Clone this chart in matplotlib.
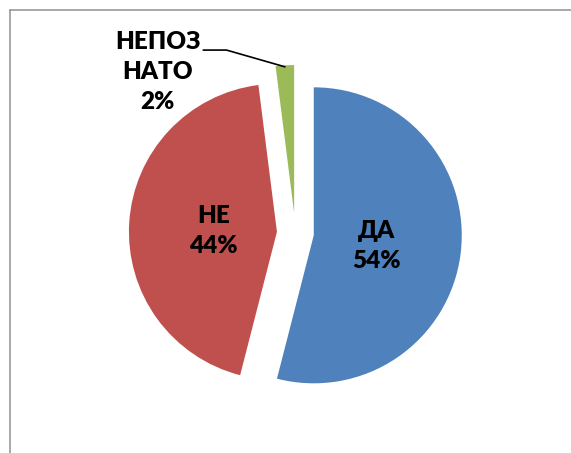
import numpy as np
import matplotlib.pyplot as plt
from matplotlib.lines import Line2D

# Survey answers
labels = ["ДА", "НЕ", "НЕПОЗ\nНАТО"]
shares = [54, 44, 2]
colors = ["#4F81BD", "#C0504D", "#9BBB59"]
explode = [0.125, 0.125, 0.135]

W, H = 571, 453
CX, CY = 295.4, 233      # pie centre in pixels
R = 148                  # pie radius in pixels

plt.rcParams["font.family"] = ["Lato", "DejaVu Sans"]

fig = plt.figure(figsize=(W / 100, H / 100), dpi=100)
ax = fig.add_axes([0, 0, 1, 1])

wedges, _ = ax.pie(
    shares,
    colors=colors,
    explode=explode,
    startangle=90,
    counterclock=False,
    wedgeprops={"linewidth": 0},
)
ax.set_aspect("auto")
ax.set_xlim(-CX / R, (W - CX) / R)
ax.set_ylim(-(H - CY) / R, CY / R)
ax.axis("off")

font = dict(fontsize=17.5, fontweight="heavy", linespacing=1.42)

# Labels inside the two big slices
for w, lab, pct in zip(wedges[:2], labels[:2], shares[:2]):
    mid = np.deg2rad((w.theta1 + w.theta2) / 2)
    x = w.center[0] + 0.43 * np.cos(mid)
    y = w.center[1] + 0.43 * np.sin(mid) - 0.02
    ax.text(x, y, f"{lab}\n{pct}%", ha="center", va="center", **font)

# Small slice gets an outside label with a leader line
g = wedges[2]
mid = np.deg2rad((g.theta1 + g.theta2) / 2)
tip = (g.center[0] + np.cos(mid) * 0.99, g.center[1] + np.sin(mid) * 0.99)
ax.annotate(
    f"{labels[2]}\n{shares[2]}%",
    xy=tip,
    xytext=(-0.93, 1.088),
    ha="center", va="center",
    arrowprops=dict(arrowstyle="-", color="black", lw=1.2,
                    relpos=(1.0, 0.77), patchA=None, shrinkA=2, shrinkB=0,
                    connectionstyle="angle,angleA=0,angleB=-16"),
    **font,
)

# Chart frame (top and left edges visible)
fig.add_artist(Line2D([10 / W, 1], [1 - 10 / H, 1 - 10 / H], color="#9a9a9a", lw=1.2))
fig.add_artist(Line2D([10 / W, 10 / W], [0, 1 - 10 / H], color="#9a9a9a", lw=1.2))

fig.savefig("out.png", dpi=100, facecolor="white")
